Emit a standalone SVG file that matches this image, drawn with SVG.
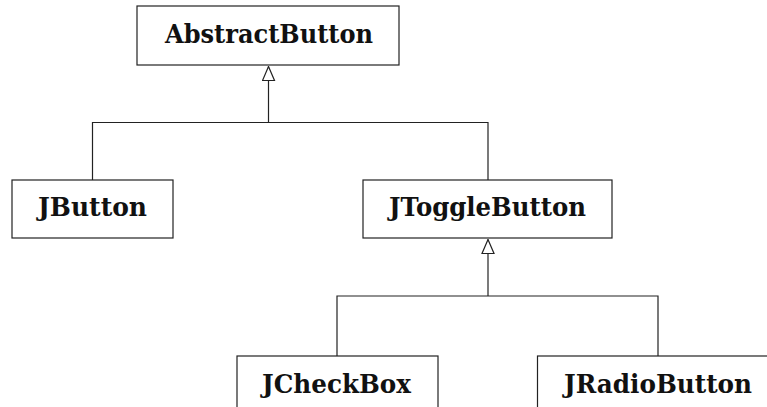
<svg xmlns="http://www.w3.org/2000/svg" width="767" height="407" viewBox="0 0 767 407">
  <style>
    .box { fill: #ffffff; stroke: #222222; stroke-width: 1.2; }
    .lbl { font-family: "DejaVu Serif", "Liberation Serif", serif; font-weight: bold; font-size: 25.5px; fill: #111111; text-anchor: middle; }
    .edge { fill: none; stroke: #222222; stroke-width: 1.2; }
  </style>
  <defs>
    <marker id="gen" viewBox="0 0 16 14" refX="15" refY="7" markerWidth="16" markerHeight="14" markerUnits="userSpaceOnUse" orient="auto">
      <path d="M1,1 L15,7 L1,13 Z" fill="#ffffff" stroke="#222222" stroke-width="1.2"/>
    </marker>
  </defs>

  <g id="connectors">
    <!-- JButton / JToggleButton generalise AbstractButton -->
    <path class="edge" d="M92.5,180 V122.5 H488 V180"/>
    <path class="edge" d="M268.5,122.5 V66.5" marker-end="url(#gen)"/>
    <!-- JCheckBox / JRadioButton generalise JToggleButton -->
    <path class="edge" d="M337,356 V296 H658 V356"/>
    <path class="edge" d="M488,296 V239.5" marker-end="url(#gen)"/>
  </g>

  <g id="AbstractButton">
    <rect class="box" x="137" y="6" width="262" height="59"/>
    <text class="lbl" x="269" y="42.5" textLength="208" lengthAdjust="spacingAndGlyphs">AbstractButton</text>
  </g>

  <g id="JButton">
    <rect class="box" x="12" y="180" width="161" height="58"/>
    <text class="lbl" x="92.5" y="216" textLength="109" lengthAdjust="spacingAndGlyphs">JButton</text>
  </g>

  <g id="JToggleButton">
    <rect class="box" x="363" y="180" width="249" height="58"/>
    <text class="lbl" x="487.5" y="216" textLength="197" lengthAdjust="spacingAndGlyphs">JToggleButton</text>
  </g>

  <g id="JCheckBox">
    <rect class="box" x="237" y="356" width="201" height="60"/>
    <text class="lbl" x="336.5" y="392.5" textLength="149" lengthAdjust="spacingAndGlyphs">JCheckBox</text>
  </g>

  <g id="JRadioButton">
    <rect class="box" x="537.5" y="356" width="240" height="60"/>
    <text class="lbl" x="658" y="392.5" textLength="188" lengthAdjust="spacingAndGlyphs">JRadioButton</text>
  </g>
</svg>
